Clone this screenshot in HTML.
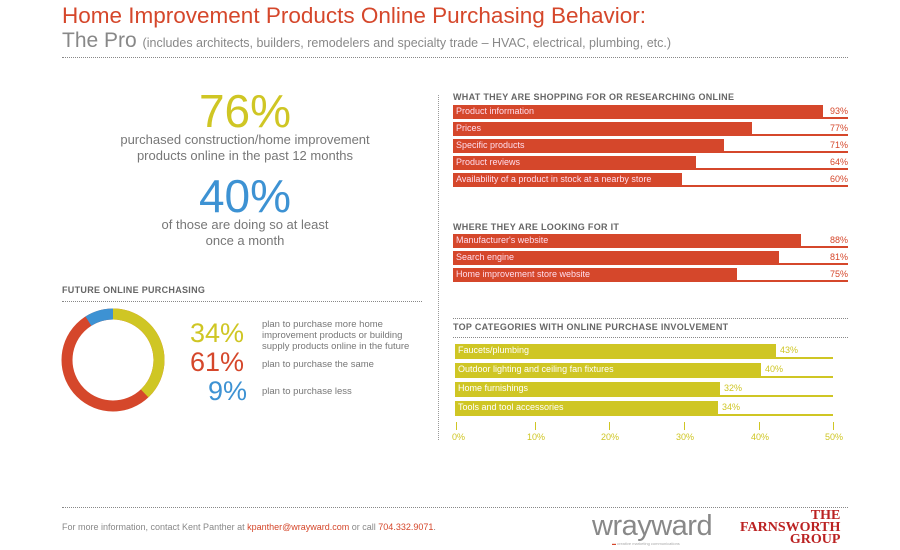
<!DOCTYPE html>
<html><head><meta charset="utf-8"><style>
body{margin:0;width:900px;height:550px;background:#fff;font-family:"Liberation Sans",sans-serif;position:relative;overflow:hidden}
.a{position:absolute;white-space:nowrap}
.dot{position:absolute;border-top:1px dotted #888;height:0}
.h{font-size:9px;color:#666;font-weight:bold;letter-spacing:.3px}
.row{position:absolute;left:453px;width:395px;height:14px;border-bottom:2px solid #d5472b;box-sizing:border-box}
.bar{position:absolute;left:0;top:0;height:12px;background:#d5472b;color:#fde;font-size:9px;line-height:12px;padding-left:3px;box-sizing:border-box;white-space:nowrap}
.v{position:absolute;right:0;top:0;font-size:9px;color:#d5472b;line-height:12px}
.yrow{position:absolute;left:455px;width:378px;height:15px;border-bottom:2px solid #cfc624;box-sizing:border-box}
.ybar{position:absolute;left:0;top:0;height:13px;background:#cfc624;color:#fff;font-size:9px;line-height:13px;padding-left:3px;box-sizing:border-box;white-space:nowrap}
.yv{position:absolute;top:0;font-size:9px;color:#cfc624;line-height:13px}
.t{position:absolute;font-size:9px;color:#cfc624;top:432px}
.tk{position:absolute;top:422px;width:1px;height:8px;background:#cfc624}
</style></head><body>
<div class="a" style="left:62px;top:3px;font-size:22.5px;color:#d5472b">Home Improvement Products Online Purchasing Behavior:</div>
<div class="a" style="left:62px;top:29px;font-size:21px;color:#888">The Pro <span style="font-size:12.5px">(includes architects, builders, remodelers and specialty trade – HVAC, electrical, plumbing, etc.)</span></div>
<div class="dot" style="left:62px;top:57px;width:786px"></div>

<div class="a" style="left:0;width:490px;text-align:center;top:84px;font-size:46px;color:#cfc624">76%</div>
<div class="a" style="left:0;width:490px;text-align:center;top:132px;font-size:13px;color:#777;line-height:16px">purchased construction/home improvement<br>products online in the past 12 months</div>
<div class="a" style="left:0;width:490px;text-align:center;top:169px;font-size:46px;color:#3d92d3">40%</div>
<div class="a" style="left:0;width:490px;text-align:center;top:217px;font-size:13px;color:#777;line-height:16px">of those are doing so at least<br>once a month</div>

<div class="a h" style="left:62px;top:285px">FUTURE ONLINE PURCHASING</div>
<div class="dot" style="left:62px;top:301px;width:360px"></div>
<svg class="a" style="left:60px;top:307px" width="120" height="106">
<g transform="translate(53,53)" fill="none" stroke-width="11">
<circle r="46" stroke="#d5472b"/>
<path d="M0,-46 A46,46 0 0,1 31.6,33.4" stroke="#cfc624"/>
<path d="M-24.6,-38.9 A46,46 0 0,1 0,-46" stroke="#3d92d3"/>
</g></svg>
<div class="a" style="left:190px;top:318px;font-size:27px;color:#cfc624">34%</div>
<div class="a" style="left:190px;top:347px;font-size:27px;color:#d5472b">61%</div>
<div class="a" style="left:208px;top:376px;font-size:27px;color:#3d92d3">9%</div>
<div class="a" style="left:262px;top:319px;font-size:9.5px;color:#777;line-height:11px">plan to purchase more home<br>improvement products or building<br>supply products online in the future</div>
<div class="a" style="left:262px;top:359px;font-size:9.5px;color:#777">plan to purchase the same</div>
<div class="a" style="left:262px;top:386px;font-size:9.5px;color:#777">plan to purchase less</div>

<div style="position:absolute;left:438px;top:95px;height:345px;border-left:1px dotted #999"></div>

<div class="a h" style="left:453px;top:92px">WHAT THEY ARE SHOPPING FOR OR RESEARCHING ONLINE</div>
<div class="row" style="top:105px"><div class="bar" style="width:370px">Product information</div><div class="v">93%</div></div>
<div class="row" style="top:122px"><div class="bar" style="width:299px">Prices</div><div class="v">77%</div></div>
<div class="row" style="top:139px"><div class="bar" style="width:271px">Specific products</div><div class="v">71%</div></div>
<div class="row" style="top:156px"><div class="bar" style="width:243px">Product reviews</div><div class="v">64%</div></div>
<div class="row" style="top:173px"><div class="bar" style="width:229px">Availability of a product in stock at a nearby store</div><div class="v">60%</div></div>

<div class="a h" style="left:453px;top:222px">WHERE THEY ARE LOOKING FOR IT</div>
<div class="row" style="top:234px"><div class="bar" style="width:348px">Manufacturer's website</div><div class="v">88%</div></div>
<div class="row" style="top:251px"><div class="bar" style="width:326px">Search engine</div><div class="v">81%</div></div>
<div class="row" style="top:268px"><div class="bar" style="width:284px">Home improvement store website</div><div class="v">75%</div></div>

<div class="dot" style="left:453px;top:318px;width:395px"></div>
<div class="a h" style="left:453px;top:322px">TOP CATEGORIES WITH ONLINE PURCHASE INVOLVEMENT</div>
<div class="dot" style="left:453px;top:337px;width:395px"></div>
<div class="yrow" style="top:344px"><div class="ybar" style="width:321px">Faucets/plumbing</div><div class="yv" style="left:325px">43%</div></div>
<div class="yrow" style="top:363px"><div class="ybar" style="width:306px">Outdoor lighting and ceiling fan fixtures</div><div class="yv" style="left:310px">40%</div></div>
<div class="yrow" style="top:382px"><div class="ybar" style="width:265px">Home furnishings</div><div class="yv" style="left:269px">32%</div></div>
<div class="yrow" style="top:401px"><div class="ybar" style="width:263px">Tools and tool accessories</div><div class="yv" style="left:267px">34%</div></div>
<div class="tk" style="left:456px"></div><div class="tk" style="left:535px"></div><div class="tk" style="left:609px"></div><div class="tk" style="left:684px"></div><div class="tk" style="left:759px"></div><div class="tk" style="left:833px"></div>
<div class="t" style="left:452px">0%</div><div class="t" style="left:527px">10%</div><div class="t" style="left:601px">20%</div><div class="t" style="left:676px">30%</div><div class="t" style="left:751px">40%</div><div class="t" style="left:825px">50%</div>

<div class="dot" style="left:62px;top:507px;width:786px"></div>
<div class="a" style="left:62px;top:522px;font-size:9px;color:#888">For more information, contact Kent Panther at <span style="color:#d5472b">kpanther@wrayward.com</span> or call <span style="color:#d5472b">704.332.9071</span>.</div>
<div class="a" style="left:592px;top:510px;font-size:29px;color:#888;letter-spacing:-.5px">wrayward</div>
<div class="a" style="left:612px;top:541px;font-size:4px;color:#aaa"><span style="color:#d5472b">▬</span> creative marketing communications</div>
<div class="a" style="left:740px;top:510px;font-family:'Liberation Serif',serif;color:#b22;font-weight:bold;font-size:14px;line-height:12px;text-align:right">THE<br>FARNSWORTH<br>GROUP</div>
</body></html>
